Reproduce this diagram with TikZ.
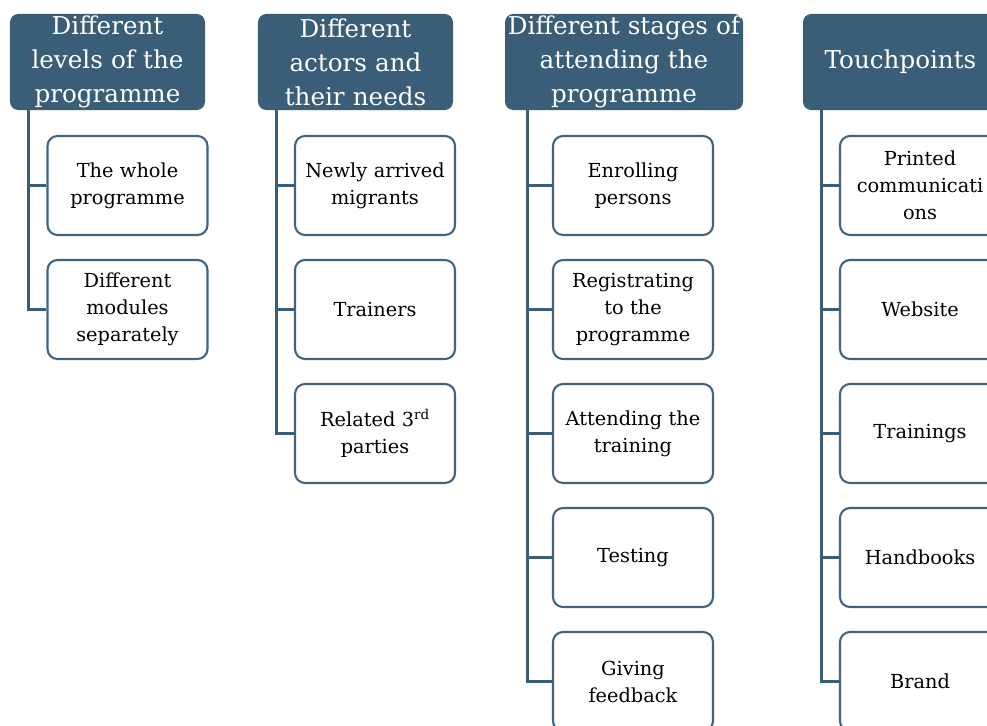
\documentclass[tikz,border=0pt]{standalone}
\usepackage{fontspec}
\setmainfont{DejaVu Serif}
\usetikzlibrary{positioning}
\definecolor{slate}{RGB}{58,93,120}
\definecolor{slateline}{RGB}{66,99,126}

\begin{document}
\begin{tikzpicture}[x=0.03cm, y=-0.03cm,
  hdr/.style={fill=slate, rounded corners=0.25cm, text=white, align=center,
    inner sep=0pt, minimum height=2.88cm, text width=#1,
    font=\fontsize{21}{29}\selectfont},
  item/.style={draw=slateline, line width=1.8pt, fill=white, rounded corners=0.3cm,
    align=center, minimum width=4.8cm, minimum height=2.97cm, text width=4.6cm,
    inner sep=0pt, font=\fontsize{16.5}{23}\selectfont},
  link/.style={draw=slate, line width=2.2pt}]
  \clip (0,0) rectangle (987,725);

  % headings
  \node[hdr=5.85cm] (h1) at (107.5,62) {Different\\levels of the\\programme};
  \node[hdr=5.85cm] (h2) at (355.5,62) {Different\\actors and\\their needs};
  \node[hdr=7.14cm] (h3) at (624,62) {Different stages of\\attending the\\programme};
  \node[hdr=5.85cm] (h4) at (900.5,62) {Touchpoints};

  % levels
  \node[item] (a1) at (127.5,185.5) {The whole\\programme};
  \node[item] (a2) at (127.5,309.5) {Different\\modules\\separately};

  % actors
  \node[item] (b1) at (375,185.5) {Newly arrived\\migrants};
  \node[item] (b2) at (375,309.5) {Trainers};
  \node[item] (b3) at (375,433.5) {Related 3\textsuperscript{rd}\\parties};

  % stages
  \node[item] (c1) at (633,185.5) {Enrolling\\persons};
  \node[item] (c2) at (633,309.5) {Registrating\\to the\\programme};
  \node[item] (c3) at (633,433.5) {Attending the\\training};
  \node[item] (c4) at (633,557.5) {Testing};
  \node[item] (c5) at (633,681.5) {Giving\\feedback};

  % touchpoints
  \node[item] (d1) at (920,185.5) {Printed\\communicati\\ons};
  \node[item] (d2) at (920,309.5) {Website};
  \node[item] (d3) at (920,433.5) {Trainings};
  \node[item] (d4) at (920,557.5) {Handbooks};
  \node[item] (d5) at (920,681.5) {Brand};

  % tree lines
  \foreach \c in {a1,a2}
    \draw[link] ([xshift=0.57cm]h1.south west) |- (\c.west);
  \foreach \c in {b1,b2,b3}
    \draw[link] ([xshift=0.57cm]h2.south west) |- (\c.west);
  \foreach \c in {c1,c2,c3,c4,c5}
    \draw[link] ([xshift=0.69cm]h3.south west) |- (\c.west);
  \foreach \c in {d1,d2,d3,d4,d5}
    \draw[link] ([xshift=0.57cm]h4.south west) |- (\c.west);
\end{tikzpicture}
\end{document}
